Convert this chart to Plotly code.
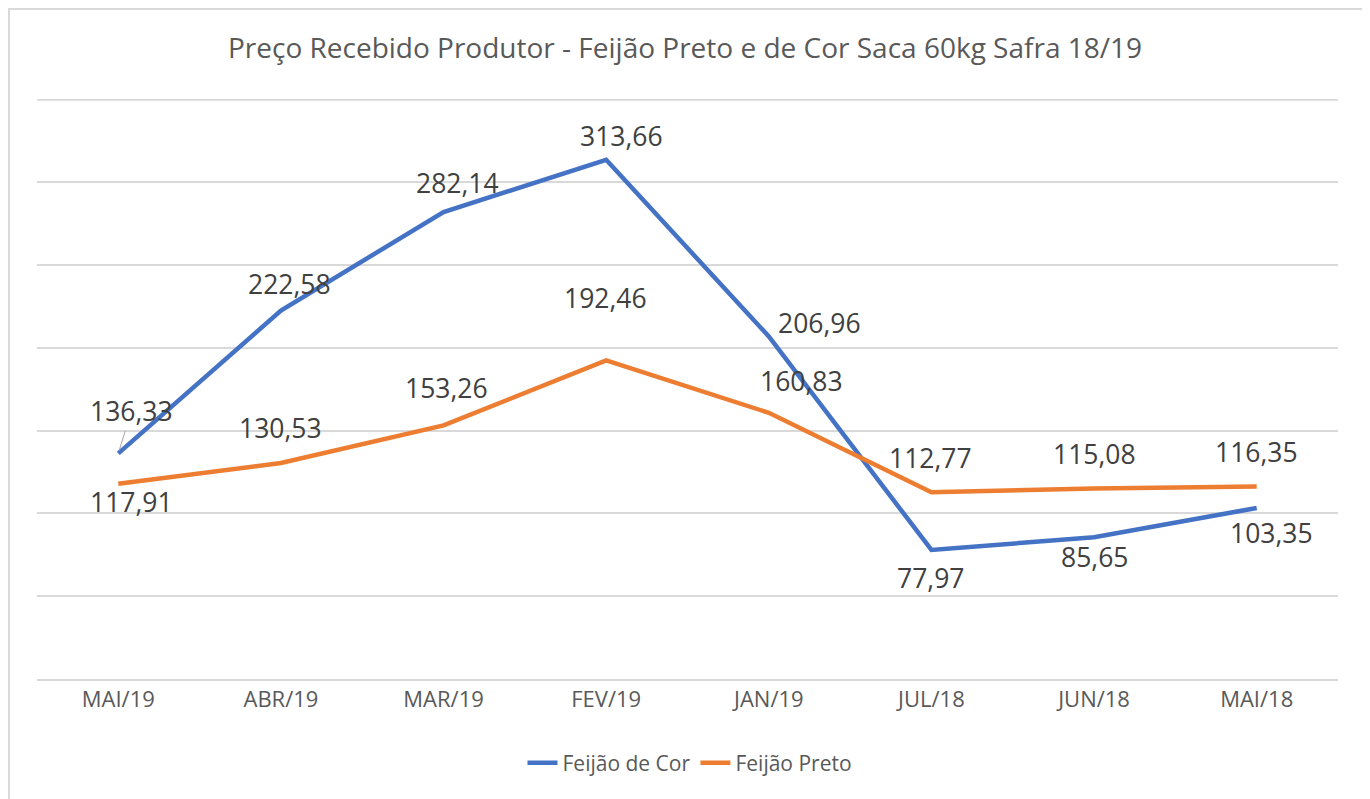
import plotly.graph_objects as go

categories = ["MAI/19", "ABR/19", "MAR/19", "FEV/19", "JAN/19", "JUL/18", "JUN/18", "MAI/18"]
feijao_cor = [136.33, 222.58, 282.14, 313.66, 206.96, 77.97, 85.65, 103.35]
feijao_preto = [117.91, 130.53, 153.26, 192.46, 160.83, 112.77, 115.08, 116.35]

# label pixel offsets (dx, dy) relative to the point; dy positive = downwards
cor_offsets = [(13, -42), (9, -27), (14, -29), (15, -24), (51, -13), (-1, 28), (0, 20), (15, 25)]
preto_offsets = [(13, 18), (0, -35), (3, -37), (-1, -62), (33, -32), (-1, -34), (0, -35), (0, -34)]

BLUE = "#4472C4"
ORANGE = "#ED7D31"
FONT = "Open Sans"
W, H = 1370, 799
OFF = 8  # page body margin

def fmt(v):
    return f"{v:.2f}".replace(".", ",")

fig = go.Figure()
fig.add_trace(go.Scatter(x=categories, y=feijao_cor, mode="lines", name="Feijão de Cor",
                         line=dict(color=BLUE, width=4.5)))
fig.add_trace(go.Scatter(x=categories, y=feijao_preto, mode="lines", name="Feijão Preto",
                         line=dict(color=ORANGE, width=4.5)))

LBL = dict(family=FONT, size=26.5, color="#404040")
annotations = []
for i, (c, v) in enumerate(zip(categories, feijao_cor)):
    dx, dy = cor_offsets[i]
    if i == 0:
        annotations.append(dict(x=c, y=v, xref="x", yref="y", text=fmt(v), showarrow=True,
                                ax=dx, ay=dy, arrowhead=0, arrowwidth=1, arrowcolor="#A6A6A6",
                                standoff=3, font=LBL))
    else:
        annotations.append(dict(x=c, y=v, xref="x", yref="y", text=fmt(v), showarrow=False,
                                xshift=dx, yshift=-dy, font=LBL))
for i, (c, v) in enumerate(zip(categories, feijao_preto)):
    dx, dy = preto_offsets[i]
    annotations.append(dict(x=c, y=v, xref="x", yref="y", text=fmt(v), showarrow=False,
                            xshift=dx, yshift=-dy, font=LBL))

ml, mr, mt, mb = 37 - OFF, W - (1338 - OFF), 99 - OFF, H - (679 - OFF)
pw, ph = W - ml - mr, H - mt - mb

fig.update_layout(
    width=W, height=H,
    margin=dict(l=ml, r=mr, t=mt, b=mb),
    paper_bgcolor="white", plot_bgcolor="white",
    title=dict(text="Preço Recebido Produtor - Feijão Preto e de Cor Saca 60kg Safra 18/19",
               x=(685 - OFF) / W, xref="container", xanchor="center",
               y=1 - (48 - OFF) / H, yref="container", yanchor="middle",
               font=dict(family=FONT, size=28, color="#595959")),
    xaxis=dict(type="category", showgrid=False, showline=True, linecolor="#D9D9D9", linewidth=2,
               ticks="", tickfont=dict(family=FONT, size=22, color="#595959"),
               range=[-0.5, 7.5]),
    yaxis=dict(range=[0, 350.4], dtick=50, showgrid=True, gridcolor="#D9D9D9", gridwidth=2,
               showticklabels=False, zeroline=False, showline=False),
    legend=dict(orientation="h", x=(690 - OFF) / W, xref="container", xanchor="center",
                y=1 - (763 - OFF) / H, yref="container", yanchor="middle",
                font=dict(family=FONT, size=21, color="#595959")),
    annotations=annotations,
    shapes=[dict(type="rect", xref="paper", yref="paper",
                 x0=(1 - ml) / pw, x1=(1367 - OFF - ml) / pw,
                 y0=-(H + 10 - mt - ph) / ph, y1=(ph + mt - 1) / ph,
                 line=dict(color="#D9D9D9", width=2), fillcolor="rgba(0,0,0,0)", layer="below"),
            dict(type="line", xref="paper", yref="y", x0=0, x1=1, y0=350, y1=350,
                 line=dict(color="#D9D9D9", width=2), layer="below")],
    showlegend=True,
)

fig.write_html("out.html")
